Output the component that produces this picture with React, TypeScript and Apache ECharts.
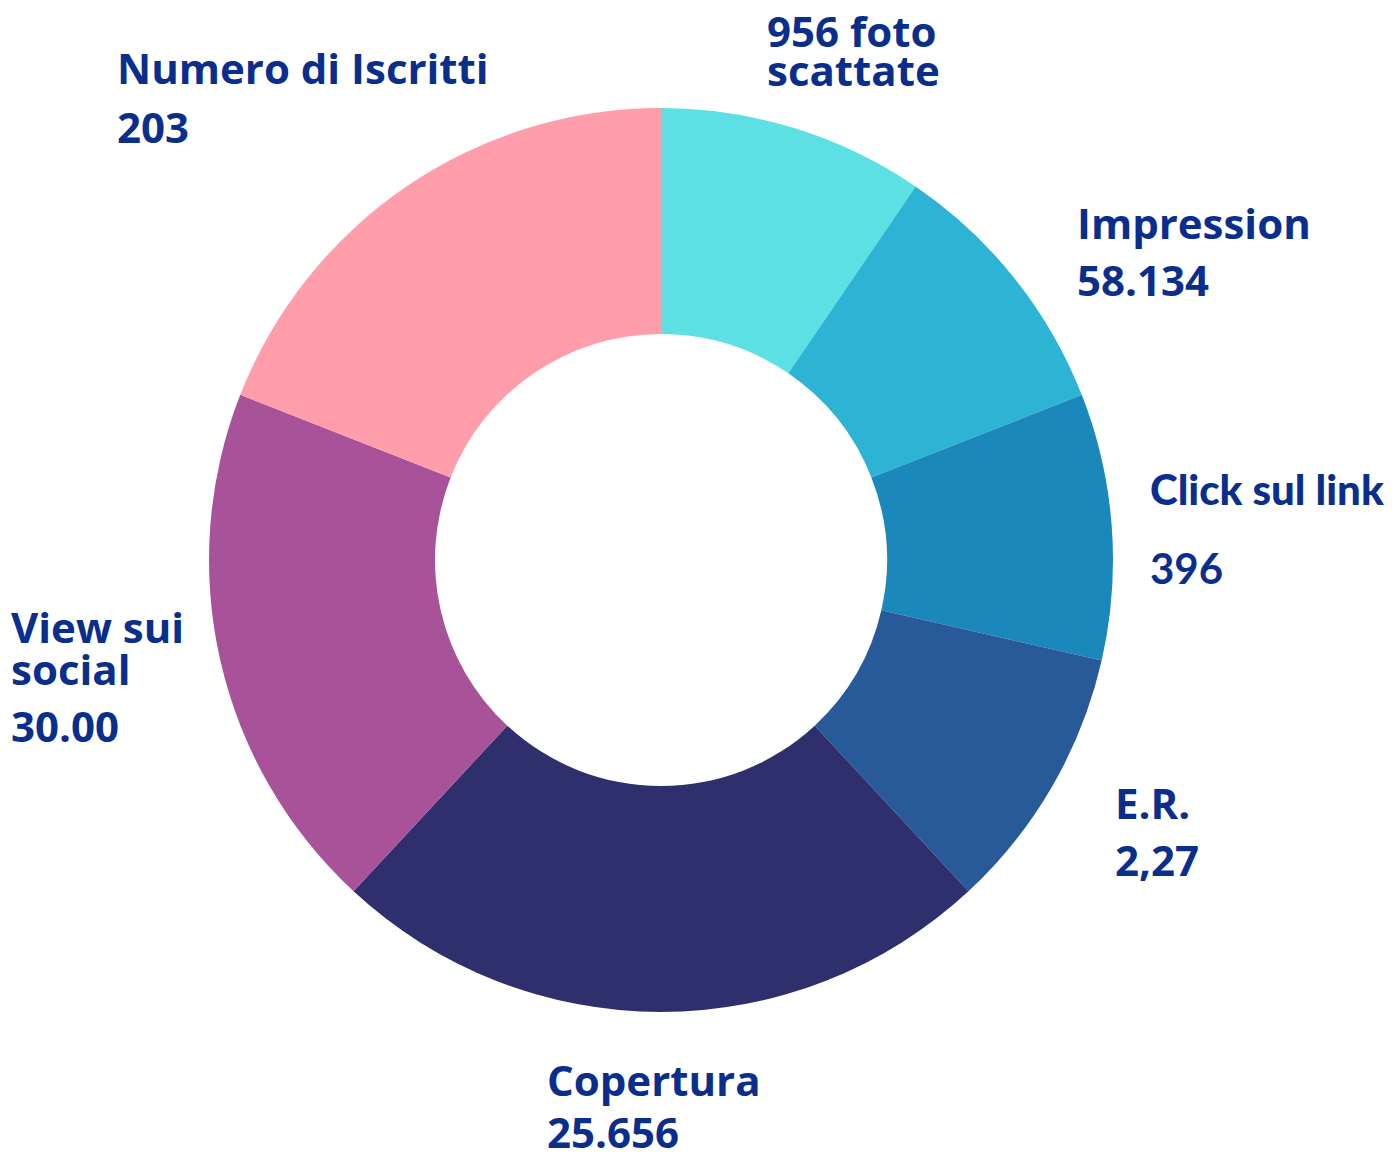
import React, { useEffect, useRef } from "react";
import * as echarts from "echarts";

const categories = [
  "956 foto scattate",
  "Impression",
  "Click sul link",
  "E.R.",
  "Copertura",
  "View sui social",
  "Numero di Iscritti",
];
const sliceWeights = [10, 10, 10, 10, 25, 20, 20];
const labelNameLines = [
  ["956 foto", "scattate"],
  ["Impression"],
  ["Click sul link"],
  ["E.R."],
  ["Copertura"],
  ["View sui", "social"],
  ["Numero di Iscritti"],
];
const labelValues = ["", "58.134", "396", "2,27", "25.656", "30.00", "203"];
const sliceColors = [
  "#5DE0E4",
  "#2DB3D4",
  "#1A88BA",
  "#285999",
  "#2F2F6E",
  "#A8529A",
  "#FF9DAA",
];

// layout (pixel positions of the labels)
const labelX = [767, 1077, 1150, 1115, 547, 11, 117];
const labelLineCenters = [
  [30, 69],
  [222, 279],
  [489, 568],
  [802, 859],
  [1079, 1131],
  [626, 668, 725],
  [67, 126],
];

const TEXT_COLOR = "#0A2E8C";
const FONT_SIZE = 42;
const FONT_FAMILY = "'Open Sans', sans-serif";
const NARROW_FAMILY = "Lato, sans-serif";

function lineHeights(centers: number[]) {
  if (centers.length === 2) {
    const g = centers[1] - centers[0];
    return [g, g];
  }
  const hs: number[] = [centers[1] - centers[0]];
  for (let i = 1; i < centers.length; i++) {
    hs.push(2 * (centers[i] - centers[i - 1]) - hs[i - 1]);
  }
  return hs;
}

export default function App() {
  const ref = useRef<HTMLDivElement>(null);

  useEffect(() => {
    document.body.style.margin = "0";
    if (!ref.current) return;
    const chart = echarts.init(ref.current, undefined, { renderer: "svg" });

    const tops: number[] = [];
    const data = categories.map((name, i) => {
      const lines = labelValues[i]
        ? [...labelNameLines[i], labelValues[i]]
        : [...labelNameLines[i]];
      const hs = lineHeights(labelLineCenters[i]);
      tops.push(labelLineCenters[i][0] - hs[0] / 2);
      const family = name === "Click sul link" ? NARROW_FAMILY : FONT_FAMILY;
      const rich: Record<string, any> = {};
      hs.forEach((h, k) => {
        rich["l" + k] = {
          lineHeight: h,
          fontSize: FONT_SIZE,
          fontWeight: k === 0 && family === NARROW_FAMILY ? 900 : 700,
          fontFamily: family,
          color: TEXT_COLOR,
        };
      });
      const formatter = lines.map((t, k) => `{l${k}|${t}}`).join("\n");
      return {
        name,
        value: sliceWeights[i],
        itemStyle: { color: sliceColors[i] },
        label: { formatter, rich },
      };
    });

    chart.setOption({
      animation: false,
      backgroundColor: "#ffffff",
      series: [
        {
          type: "pie",
          center: [661, 560],
          radius: [226, 452],
          startAngle: 90,
          clockwise: true,
          silent: true,
          itemStyle: { borderWidth: 0 },
          label: {
            show: true,
            position: "outside",
            overflow: "none",
            edgeDistance: 0,
            fontSize: FONT_SIZE,
            fontWeight: 700,
            fontFamily: FONT_FAMILY,
            color: TEXT_COLOR,
          },
          labelLine: { show: false },
          labelLayout: (params: any) => ({
            x: labelX[params.dataIndex],
            y: tops[params.dataIndex],
            align: "left",
            verticalAlign: "top",
          }),
          emphasis: { disabled: true },
          data,
        },
      ],
    });

    return () => chart.dispose();
  }, []);

  return <div ref={ref} style={{ width: 1395, height: 1158 }} />;
}
